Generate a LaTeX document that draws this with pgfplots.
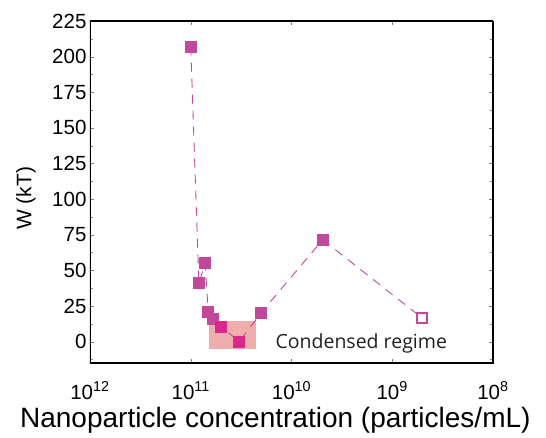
\documentclass[border=0pt]{standalone}
\usepackage{fontspec}
\setmainfont{Liberation Sans}
\newfontfamily\notefont{Open Sans}
\usepackage{pgfplots}
\pgfplotsset{compat=1.18}

\definecolor{wline}{HTML}{C1489B}
\definecolor{wcond}{HTML}{D9278B}
\definecolor{regime}{HTML}{F0ADAD}
\definecolor{notetext}{HTML}{231F20}

\begin{document}
\begin{tikzpicture}
\begin{axis}[
  scale only axis,
  width=403pt, height=342pt,
  xmode=log, x dir=reverse,
  xmin=1e8, xmax=1e12,
  ymin=-15, ymax=225,
  xtick={1e12,1e11,1e10,1e9,1e8},
  xticklabels={10\textsuperscript{12},10\textsuperscript{11},10\textsuperscript{10},10\textsuperscript{9},10\textsuperscript{8}},
  ytick={0,25,...,225},
  minor ytick={-12.5,12.5,37.5,...,212.5},
  tick align=inside, tick pos=both,
  /pgf/number format/assume math mode=true,
  ticklabel style={font=\fontsize{20.5}{24}\selectfont},
  xticklabel style={anchor=base, yshift=-36pt},
  xlabel={Nanoparticle concentration (particles/mL)},
  ylabel={W (kT)},
  xlabel style={font=\fontsize{28}{32}\selectfont, at={(axis description cs:0.46,-0.19)}, anchor=base},
  ylabel style={font=\fontsize{21}{25}\selectfont, at={(axis description cs:-0.159,0.482)}, anchor=center},
]
% shaded condensed regime
\fill[regime] (axis cs:6.6e10,-4.9) rectangle (axis cs:2.25e10,14.7);

\addplot[wline, line width=0.9pt, dash pattern=on 9pt off 7pt,
  mark=square*, mark size=5.5pt,
  mark options={solid, fill=wline, draw=wline, line width=0pt}]
  coordinates {
    (1.0e11,207) (8.3e10,41) (7.2e10,55) (6.7e10,21) (6.0e10,16)
    (5.0e10,10.5) (3.3e10,0) (2.0e10,20.3) (4.9e9,71.5)
  };
% last point: open marker
\addplot[wline, line width=0.9pt, dash pattern=on 9pt off 7pt,
  mark=square, mark size=5pt,
  mark options={solid, fill=white, draw=wline, line width=2pt}]
  coordinates {(4.9e9,71.5) (5.1e8,16.8)};
\addplot[wline, only marks, mark=square*, mark size=5.5pt,
  mark options={fill=wline, draw=wline, line width=0pt}]
  coordinates {(4.9e9,71.5)};
% condensed points
\addplot[wcond, only marks, mark=square*, mark size=5.5pt,
  mark options={fill=wcond, draw=wcond, line width=0pt}]
  coordinates {(5.0e10,10.5) (3.3e10,0)};

\node[anchor=base west, text=notetext, font=\notefont\fontsize{19.5}{23}\selectfont]
  at (axis cs:1.56e10,-4.9) {Condensed regime};

% heavier frame round the plot area
\draw[black, line width=1.1pt] (rel axis cs:0,0) rectangle (rel axis cs:1,1);
\end{axis}
% white margin round the figure
\path (-90pt,-71pt) rectangle (456pt,363pt);
\end{tikzpicture}
\end{document}
